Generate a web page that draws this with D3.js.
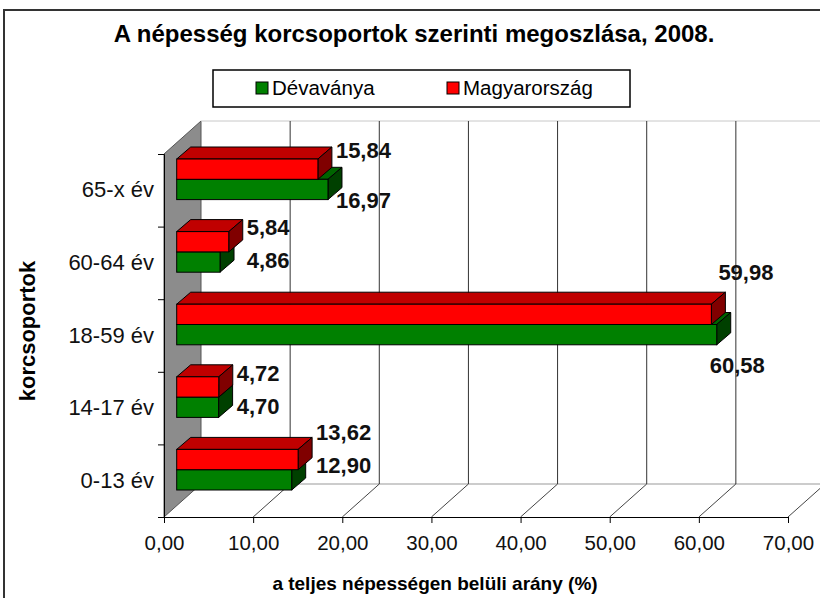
<!DOCTYPE html>
<html>
<head>
<meta charset="utf-8">
<script src="https://cdn.jsdelivr.net/npm/d3@7"></script>
<style>
  body { margin: 0; background: #fff; }
  text { font-family: "Liberation Sans", Arial, sans-serif; }
</style>
</head>
<body>
<div id="chart"></div>
<script>
// data
const categories = ["0-13 év", "14-17 év", "18-59 év", "60-64 év", "65-x év"];
const devavanya = [12.90, 4.70, 60.58, 4.86, 16.97];
const magyarorszag = [13.62, 4.72, 59.98, 5.84, 15.84];
const xTicks = [0, 10, 20, 30, 40, 50, 60, 70];

const width = 820, height = 598;
const depth = {dx: 37, dy: -33};     // floor / wall depth
const barOff = {dx: 12.7, dy: -11};  // bar front plane
const barDepth = {dx: 14, dy: -12};  // bar thickness in depth
const barH = 20.3;

let svg = d3.select("#chart")
    .append("svg")
    .attr("width", width)
    .attr("height", height);

// outer border
svg.append("path")
    .attr("d", "M4,598 L4,10 L820,10")
    .attr("fill", "none")
    .attr("stroke", "#333")
    .attr("stroke-width", 2);

let x = d3.scaleLinear().domain([0, 70]).range([164, 788]);
let y = d3.scaleBand().domain(categories).range([517, 154]);
let yLin = d3.scaleLinear().domain([0, categories.length]).range([517, 154]);

const top0 = yLin.range()[1], bot0 = yLin.range()[0];

// left wall
svg.append("polygon")
    .attr("points", [[x(0), top0], [x(0) + depth.dx, top0 + depth.dy],
        [x(0) + depth.dx, bot0 + depth.dy], [x(0), bot0]].join(" "))
    .attr("fill", "#8c8c8c")
    .attr("stroke", "#555")
    .attr("stroke-width", 1);

// back wall top edge and floor back edge
svg.append("line")
    .attr("x1", x(0) + depth.dx).attr("x2", width)
    .attr("y1", top0 + depth.dy).attr("y2", top0 + depth.dy)
    .attr("stroke", "#c8c8c8");
svg.append("line")
    .attr("x1", x(0) + depth.dx).attr("x2", width)
    .attr("y1", bot0 + depth.dy).attr("y2", bot0 + depth.dy)
    .attr("stroke", "#999");

// gridlines on back wall and floor
let grid = svg.append("g");
grid.selectAll(".vgrid")
    .data(xTicks.slice(1))
    .enter()
    .append("line")
    .attr("x1", d => x(d) + depth.dx).attr("x2", d => x(d) + depth.dx)
    .attr("y1", top0 + depth.dy).attr("y2", bot0 + depth.dy)
    .attr("stroke", "#333");
grid.selectAll(".fgrid")
    .data(xTicks.slice(1))
    .enter()
    .append("line")
    .attr("x1", d => x(d)).attr("x2", d => x(d) + depth.dx)
    .attr("y1", bot0).attr("y2", bot0 + depth.dy)
    .attr("stroke", "#444");

// 3d bars
function bar3d(g, v, yTop, c) {
    let x0 = x(0) + barOff.dx, x1 = x(v) + barOff.dx;
    let dx = barDepth.dx, dy = barDepth.dy;
    g.append("polygon")
        .attr("points", [[x0, yTop], [x0 + dx, yTop + dy], [x1 + dx, yTop + dy], [x1, yTop]].join(" "))
        .attr("fill", c.top).attr("stroke", "#000");
    g.append("polygon")
        .attr("points", [[x1, yTop], [x1 + dx, yTop + dy], [x1 + dx, yTop + barH + dy], [x1, yTop + barH]].join(" "))
        .attr("fill", c.side).attr("stroke", "#000");
    g.append("rect")
        .attr("x", x0).attr("y", yTop)
        .attr("width", x1 - x0).attr("height", barH)
        .attr("fill", c.front).attr("stroke", "#000");
}
const green = {front: "#008000", top: "#006400", side: "#004000"};
const red = {front: "#ff0000", top: "#c00000", side: "#800000"};

let bars = svg.append("g");
categories.forEach((cat, i) => {
    let mid = y(cat) + y.bandwidth() / 2 + barOff.dy;
    bar3d(bars, devavanya[i], mid, green);
    bar3d(bars, magyarorszag[i], mid - barH, red);
});

// value labels
const fmt = v => v.toFixed(2).replace(".", ",");
let labels = svg.append("g")
    .attr("font-size", 22)
    .attr("font-weight", "bold")
    .attr("fill", "#111");
categories.forEach((cat, i) => {
    let mid = y(cat) + y.bandwidth() / 2 + barOff.dy;
    let r = magyarorszag[i], g = devavanya[i];
    let rx, gx, ry, gy;
    if (Math.max(r, g) > 50) {
        rx = x(r) + barOff.dx + 7;
        gx = x(g) + barOff.dx - 7;
        ry = mid - barH + barDepth.dy - 20;
        gy = mid + barH + 20;
    } else if (g > r) {
        rx = gx = x(r) + barOff.dx + 18;
        ry = mid - 29;
        gy = mid + 21;
    } else {
        rx = gx = x(r) + barOff.dx + 18;
        let c = i === 0 ? mid - 21 : mid - 8;
        ry = c - 16.5;
        gy = c + 16.5;
    }
    labels.append("text").attr("x", rx).attr("y", ry).attr("dy", "0.36em").text(fmt(r));
    labels.append("text").attr("x", gx).attr("y", gy).attr("dy", "0.36em").text(fmt(g));
});

// x axis
let xAxis = d3.axisBottom(x)
    .tickValues(xTicks)
    .tickSize(6)
    .tickPadding(12)
    .tickFormat(fmt);
let xg = svg.append("g")
    .attr("transform", `translate(0, ${bot0})`)
    .call(xAxis);
xg.selectAll("text").attr("font-size", 20.5).attr("fill", "#111")
    .attr("font-family", "Liberation Sans, Arial, sans-serif");
xg.selectAll("line, path").attr("stroke", "#000");

// y axis ticks and labels
let yTickAxis = d3.axisLeft(yLin).ticks(categories.length).tickSize(6).tickFormat("");
let ytg = svg.append("g")
    .attr("transform", `translate(${x(0)}, 0)`)
    .call(yTickAxis);
ytg.selectAll("line, path").attr("stroke", "#000");
let yAxis = d3.axisLeft(y).tickSize(0).tickPadding(10);
let yg = svg.append("g")
    .attr("transform", `translate(${x(0)}, 0)`)
    .call(yAxis);
yg.select(".domain").remove();
yg.selectAll("text").attr("font-size", 22).attr("fill", "#111")
    .attr("font-family", "Liberation Sans, Arial, sans-serif");

// title
svg.append("text")
    .attr("x", 414).attr("y", 42)
    .attr("text-anchor", "middle")
    .attr("font-size", 24)
    .attr("font-weight", "bold")
    .text("A népesség korcsoportok szerinti megoszlása, 2008.");

// legend
svg.append("rect")
    .attr("x", 213).attr("y", 70)
    .attr("width", 417).attr("height", 37)
    .attr("fill", "#fff")
    .attr("stroke", "#000")
    .attr("stroke-width", 1.5);
let legend = svg.append("g");
[["Dévaványa", green.front, 256], ["Magyarország", red.front, 447]].forEach(d => {
    legend.append("rect")
        .attr("x", d[2]).attr("y", 82)
        .attr("width", 12).attr("height", 12)
        .attr("fill", d[1]).attr("stroke", "#000");
    legend.append("text")
        .attr("x", d[2] + 16).attr("y", 95)
        .attr("font-size", 20.5)
        .text(d[0]);
});

// axis titles
svg.append("text")
    .attr("x", 435).attr("y", 590)
    .attr("text-anchor", "middle")
    .attr("font-size", 19)
    .attr("font-weight", "bold")
    .text("a teljes népességen belüli arány (%)");
svg.append("text")
    .attr("transform", "translate(35, 331) rotate(-90)")
    .attr("text-anchor", "middle")
    .attr("font-size", 22)
    .attr("font-weight", "bold")
    .text("korcsoportok");
</script>
</body>
</html>
